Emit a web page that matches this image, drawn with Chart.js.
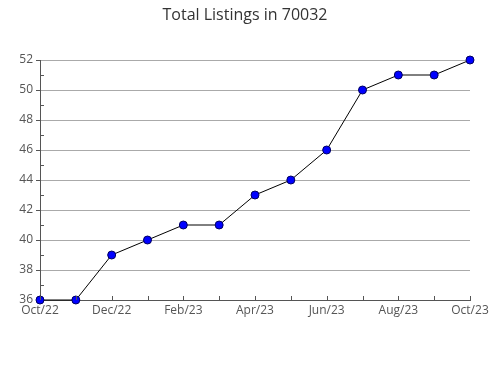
<!DOCTYPE html>
<html>
<head>
<meta charset="utf-8">
<script src="https://cdn.jsdelivr.net/npm/chart.js@4"></script>
<style>
  body { margin: 0; background: #fff; }
  #wrap { width: 490px; height: 380px; }
</style>
</head>
<body>
<div id="wrap"><canvas id="chart" width="490" height="380"></canvas></div>
<script>
// data
const titleText = "Total Listings in 70032";
const months = ["Oct/22", "Nov/22", "Dec/22", "Jan/23", "Feb/23", "Mar/23", "Apr/23",
                "May/23", "Jun/23", "Jul/23", "Aug/23", "Sep/23", "Oct/23"];
const listings = [36, 36, 39, 40, 41, 41, 43, 44, 46, 50, 51, 51, 52];
const yMin = 36;
const yMax = 52;

// small tick marks: one per month on the x axis, odd values on the y axis
// plus the title, centred on the whole canvas
const extras = {
    id: 'extras',
    afterDraw(chart) {
        const ctx = chart.ctx;
        const x = chart.scales.x;
        const y = chart.scales.y;
        ctx.save();
        ctx.strokeStyle = '#555';
        ctx.lineWidth = 1;
        ctx.beginPath();
        months.forEach((m, i) => {
            const px = Math.round(x.getPixelForValue(i)) + 0.5;
            ctx.moveTo(px, y.bottom);
            ctx.lineTo(px, y.bottom - 4);
        });
        for (let v = yMin + 1; v < yMax; v += 2) {
            const py = Math.round(y.getPixelForValue(v)) + 0.5;
            ctx.moveTo(x.left, py);
            ctx.lineTo(x.left + 4, py);
        }
        ctx.stroke();

        ctx.fillStyle = '#333';
        ctx.font = '16px "Open Sans"';
        ctx.textAlign = 'center';
        ctx.textBaseline = 'middle';
        ctx.fillText(titleText, chart.width / 2, 15);
        ctx.restore();
    }
};

new Chart(document.getElementById('chart'), {
    type: 'line',
    data: {
        labels: months,
        datasets: [{
            data: listings,
            borderColor: '#000',
            borderWidth: 1,
            pointRadius: 4,
            pointHoverRadius: 4,
            pointBackgroundColor: '#0000ff',
            pointBorderColor: '#000060',
            pointBorderWidth: 1,
            tension: 0,
            clip: false
        }]
    },
    options: {
        responsive: false,
        animation: false,
        layout: { padding: { left: 0, right: 20, top: 60, bottom: 0 } },
        plugins: {
            legend: { display: false },
            tooltip: { enabled: false },
            title: { display: false }
        },
        scales: {
            x: {
                grid: { display: false, drawTicks: false },
                border: { display: true, color: '#555' },
                ticks: {
                    color: '#555',
                    font: { family: 'Open Sans', size: 12 },
                    padding: 3,
                    maxRotation: 0,
                    autoSkip: false,
                    callback: (v, i) => (i % 2 === 0 ? months[i] : '')
                },
                afterFit: s => {
                    s.height = 80;
                    s.paddingLeft = 0;
                    s.paddingRight = 0;
                }
            },
            y: {
                min: yMin,
                max: yMax,
                grid: { color: '#aaa', tickLength: 4, tickColor: '#555' },
                border: { display: true, color: '#555' },
                ticks: {
                    stepSize: 2,
                    color: '#555',
                    font: { family: 'Open Sans', size: 12 },
                    padding: 3
                },
                afterFit: s => {
                    s.width = 40;
                    s.paddingTop = 0;
                    s.paddingBottom = 0;
                }
            }
        }
    },
    plugins: [extras]
});
</script>
</body>
</html>
